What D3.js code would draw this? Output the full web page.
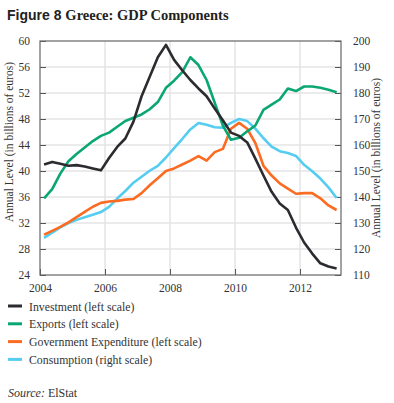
<!DOCTYPE html>
<html>
<head>
<meta charset="utf-8">
<title>Greece: GDP Components</title>
<script src="https://d3js.org/d3.v7.min.js"></script>
<style>
  body { margin: 0; background: #fff; }
  svg text { font-family: "Liberation Serif", "DejaVu Serif", serif; fill: #333; }
</style>
</head>
<body>
<script>
// quarterly data, 2004Q1 .. 2013Q1
var startYear = 2004;

var investment = [41.0, 41.4, 41.1, 40.8, 40.9, 40.7, 40.4, 40.1, 42.0, 43.7, 45.0, 47.6,
  51.5, 54.5, 57.5, 59.4, 57.1, 55.5, 54.0, 52.7, 51.5, 49.6, 47.8, 45.9, 45.4, 44.4,
  41.9, 39.3, 36.8, 35.0, 34.0, 31.3, 29.0, 27.3, 25.8, 25.3, 25.0];

var exports = [35.8, 37.2, 39.6, 41.5, 42.6, 43.6, 44.6, 45.4, 45.9, 46.8, 47.7, 48.2,
  48.7, 49.5, 50.6, 52.8, 53.9, 55.2, 57.5, 56.3, 54.0, 50.5, 47.0, 44.8, 45.1, 46.1,
  47.0, 49.4, 50.2, 51.0, 52.7, 52.3, 53.0, 53.0, 52.8, 52.5, 52.1];

var government = [30.2, 30.8, 31.4, 32.1, 32.9, 33.7, 34.5, 35.1, 35.3, 35.4, 35.6, 35.7,
  36.6, 37.8, 38.9, 40.0, 40.4, 41.0, 41.6, 42.3, 41.6, 42.9, 43.4, 46.5, 47.4, 46.5,
  44.3, 40.8, 39.3, 38.1, 37.3, 36.5, 36.6, 36.6, 35.8, 34.7, 34.0];

var consumption = [124.3, 126.3, 128.3, 130.0, 131.2, 132.2, 133.2, 134.2, 136.2, 139.4,
  142.3, 145.5, 147.8, 150.1, 152.0, 155.2, 158.8, 162.3, 166.0, 168.5, 167.8, 166.8,
  166.7, 168.5, 170.0, 169.2, 166.3, 162.6, 159.4, 157.6, 156.9, 155.8, 152.4, 149.9,
  147.1, 143.7, 139.6];

var leftTicks = [24, 28, 32, 36, 40, 44, 48, 52, 56, 60];
var rightTicks = [110, 120, 130, 140, 150, 160, 170, 180, 190, 200];
var yearTicks = [2004, 2006, 2008, 2010, 2012];

var series = [
  { name: "Investment (left scale)", values: investment, axis: "left", color: "#2b2b30" },
  { name: "Exports (left scale)", values: exports, axis: "left", color: "#0aa673" },
  { name: "Government Expenditure (left scale)", values: government, axis: "left", color: "#fb6c22" },
  { name: "Consumption (right scale)", values: consumption, axis: "right", color: "#55cdf0" }
];

var width = 394, height = 403;
var plot = { left: 40, right: 341, top: 41, bottom: 275 };

var svg = d3.select("body").append("svg")
  .attr("width", width)
  .attr("height", height);

var x = d3.scaleLinear().domain([2004, 2013.26]).range([plot.left, plot.right]);
var yL = d3.scaleLinear().domain([24, 60]).range([plot.bottom, plot.top]);
var yR = d3.scaleLinear().domain([110, 200]).range([plot.bottom, plot.top]);

// title
var title = svg.append("text").attr("x", 7).attr("y", 20);
title.append("tspan").text("Figure 8 ")
  .style("font-family", "'Liberation Sans', Arial, sans-serif")
  .style("font-weight", "bold").style("font-size", "14px").style("fill", "#222");
title.append("tspan").text("Greece: GDP Components")
  .style("font-weight", "bold").style("font-size", "14.5px").style("fill", "#222");

// grid
var grid = svg.append("g").attr("class", "grid");
grid.selectAll("line.h").data(leftTicks.slice(1, -1)).enter().append("line")
  .attr("x1", plot.left).attr("x2", plot.right)
  .attr("y1", function(d) { return yL(d); }).attr("y2", function(d) { return yL(d); })
  .attr("stroke", "#e4e4e4").attr("stroke-width", 1.5);
grid.selectAll("line.v").data(yearTicks.slice(1)).enter().append("line")
  .attr("y1", plot.top).attr("y2", plot.bottom)
  .attr("x1", function(d) { return x(d); }).attr("x2", function(d) { return x(d); })
  .attr("stroke", "#e4e4e4").attr("stroke-width", 1.5);

// axes (ticks inward)
function styleAxis(g) {
  g.select(".domain").remove();
  g.selectAll(".tick line").attr("stroke", "#555");
  g.selectAll(".tick text").style("font-size", "11.5px")
    .style("font-family", "'Liberation Serif', serif").attr("fill", "#333");
}
svg.append("g").attr("transform", "translate(" + plot.left + ",0)")
  .call(d3.axisLeft(yL).tickValues(leftTicks).tickSizeInner(-6).tickPadding(10))
  .call(styleAxis);
svg.append("g").attr("transform", "translate(" + plot.right + ",0)")
  .call(d3.axisRight(yR).tickValues(rightTicks).tickSizeInner(-6).tickPadding(12))
  .call(styleAxis);
svg.append("g").attr("transform", "translate(0," + plot.bottom + ")")
  .call(d3.axisBottom(x).tickValues(yearTicks).tickFormat(d3.format("d")).tickSizeInner(-6).tickPadding(9))
  .call(styleAxis);

// frame
svg.append("rect")
  .attr("x", plot.left).attr("y", plot.top)
  .attr("width", plot.right - plot.left).attr("height", plot.bottom - plot.top)
  .attr("fill", "none").attr("stroke", "#666").attr("stroke-width", 1.2);

// axis titles
svg.append("text")
  .attr("transform", "translate(13,142) rotate(-90)")
  .attr("text-anchor", "middle").style("font-size", "11.5px")
  .text("Annual Level (in billions of euros)");
svg.append("text")
  .attr("transform", "translate(380,158) rotate(-90)")
  .attr("text-anchor", "middle").style("font-size", "11.5px")
  .text("Annual Level (in billions of euros)");

// lines
function qx(i) { return x(startYear + (i + 0.5) / 4); }
var order = [3, 2, 1, 0];
order.forEach(function(k) {
  var s = series[k];
  var yS = s.axis === "left" ? yL : yR;
  var line = d3.line()
    .x(function(d, i) { return qx(i); })
    .y(function(d) { return yS(d); });
  svg.append("path")
    .datum(s.values)
    .attr("d", line)
    .attr("fill", "none")
    .attr("stroke", s.color)
    .attr("stroke-width", 2.6)
    .attr("stroke-linejoin", "round");
});

// legend
var legend = svg.append("g").attr("transform", "translate(8,306)");
var items = legend.selectAll("g").data(series).enter().append("g")
  .attr("transform", function(d, i) { return "translate(0," + (i * 17.8) + ")"; });
items.append("line")
  .attr("x1", 0).attr("x2", 14).attr("y1", 0).attr("y2", 0)
  .attr("stroke", function(d) { return d.color; }).attr("stroke-width", 3);
items.append("text")
  .attr("x", 21).attr("y", 4.5)
  .style("font-size", "11.8px")
  .text(function(d) { return d.name; });

// source
var src = svg.append("text").attr("x", 8).attr("y", 397).style("font-size", "12px");
src.append("tspan").style("font-style", "italic").text("Source:");
src.append("tspan").text(" ElStat");
</script>
</body>
</html>
